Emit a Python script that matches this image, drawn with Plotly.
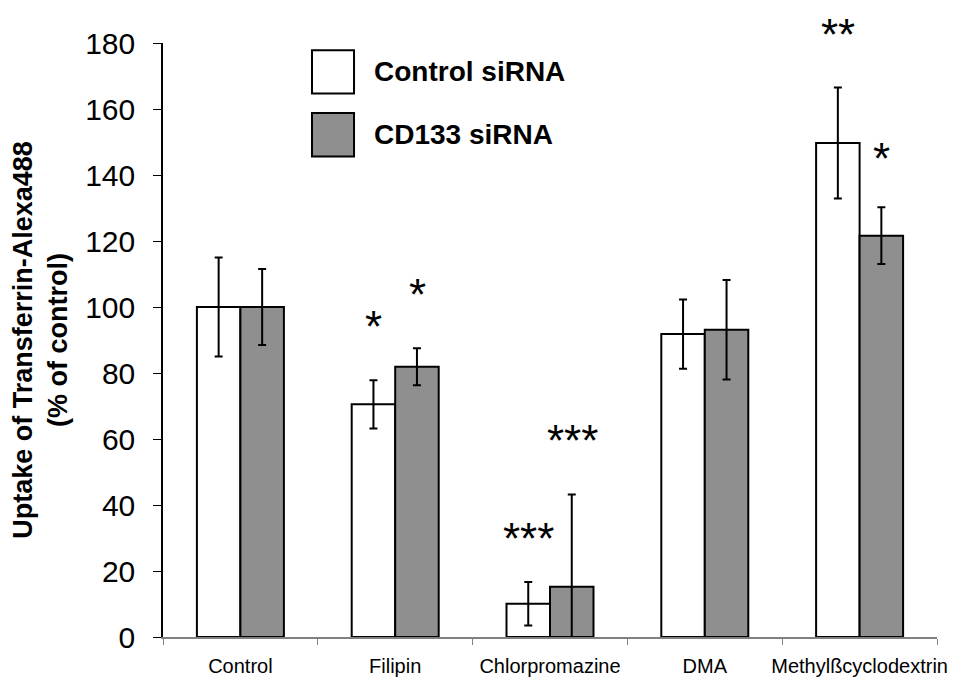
import plotly.graph_objects as go

categories = ["Control", "Filipin", "Chlorpromazine", "DMA", "Methylßcyclodextrin"]
control_sirna = [100, 70.5, 10.1, 91.8, 149.7]
control_err = [15, 7.3, 6.6, 10.5, 16.8]
cd133_sirna = [100, 81.9, 15.2, 93.1, 121.6]
cd133_err = [11.5, 5.6, 28, 15.1, 8.6]
series_names = ["Control siRNA", "CD133 siRNA"]

# significance marks: (category, which bar, label, height)
sig_cat = ["Filipin", "Filipin", "Chlorpromazine", "Chlorpromazine",
           "Methylßcyclodextrin", "Methylßcyclodextrin"]
sig_bar = [0, 1, 0, 1, 0, 1]
sig_label = ["*", "*", "***", "***", "**", "*"]
sig_y = [97, 106.7, 33, 62.6, 185.5, 148]

Y_MAX = 180
FONT = "Liberation Sans, Arial, sans-serif"
GREY = "#8f8f8f"

fig = go.Figure()
for name, vals, errs, fill in [
    (series_names[0], control_sirna, control_err, "white"),
    (series_names[1], cd133_sirna, cd133_err, GREY),
]:
    fig.add_trace(
        go.Bar(
            x=categories,
            y=vals,
            name=name,
            marker=dict(color=fill, line=dict(color="black", width=2)),
            error_y=dict(type="data", array=errs, visible=True,
                         color="black", thickness=2, width=4),
        )
    )

# stars: y given in paper units (value / axis max) so the top one can sit above the axis
for cat, b, lab, yv in zip(sig_cat, sig_bar, sig_label, sig_y):
    fig.add_annotation(
        x=cat, y=yv / Y_MAX, xref="x", yref="paper", text=lab, showarrow=False,
        xanchor="center", yanchor="middle",
        xshift=-22 if b == 0 else 22, yshift=-10,
        font=dict(family=FONT, size=44, color="black"),
    )

# legend drawn by hand to get the large swatches
for i, (name, fill) in enumerate(zip(series_names, ["white", GREY])):
    y0 = 0.988 - i * 0.106
    fig.add_shape(type="rect", xref="paper", yref="paper",
                  x0=0.1925, x1=0.2468, y0=y0 - 0.073, y1=y0,
                  fillcolor=fill, line=dict(color="black", width=2))
    fig.add_annotation(xref="paper", yref="paper", x=0.2705, y=y0 - 0.0365,
                       text=f"<b>{name}</b>", showarrow=False,
                       xanchor="left", yanchor="middle",
                       font=dict(family=FONT, size=28, color="black"))

# page body keeps an 8px margin, so the figure is 8px smaller than the window
fig.update_layout(
    width=949,
    height=674,
    barmode="group",
    bargap=0.438,
    bargroupgap=0,
    showlegend=False,
    plot_bgcolor="white",
    paper_bgcolor="white",
    font=dict(family=FONT, color="black"),
    margin=dict(l=155, r=20, t=35, b=45),
    xaxis=dict(
        type="category", automargin=False,
        showline=True, linecolor="#808080", linewidth=1.5,
        ticks="outside", tickson="boundaries", ticklen=6, tickcolor="#808080",
        tickangle=0, ticklabelstandoff=10,
        tickfont=dict(size=20, family=FONT),
        showgrid=False,
    ),
    yaxis=dict(
        range=[0, Y_MAX], dtick=20, automargin=False,
        showline=True, linecolor="black", linewidth=1.5,
        ticks="outside", ticklen=8, tickcolor="black",
        ticklabelstandoff=12,
        tickfont=dict(size=30, family=FONT),
        showgrid=False, zeroline=False,
        title=dict(text="<b>Uptake of Transferrin-Alexa488<br>(% of control)</b>",
                   font=dict(size=27, family=FONT), standoff=12),
    ),
)

fig.write_html("out.html")
